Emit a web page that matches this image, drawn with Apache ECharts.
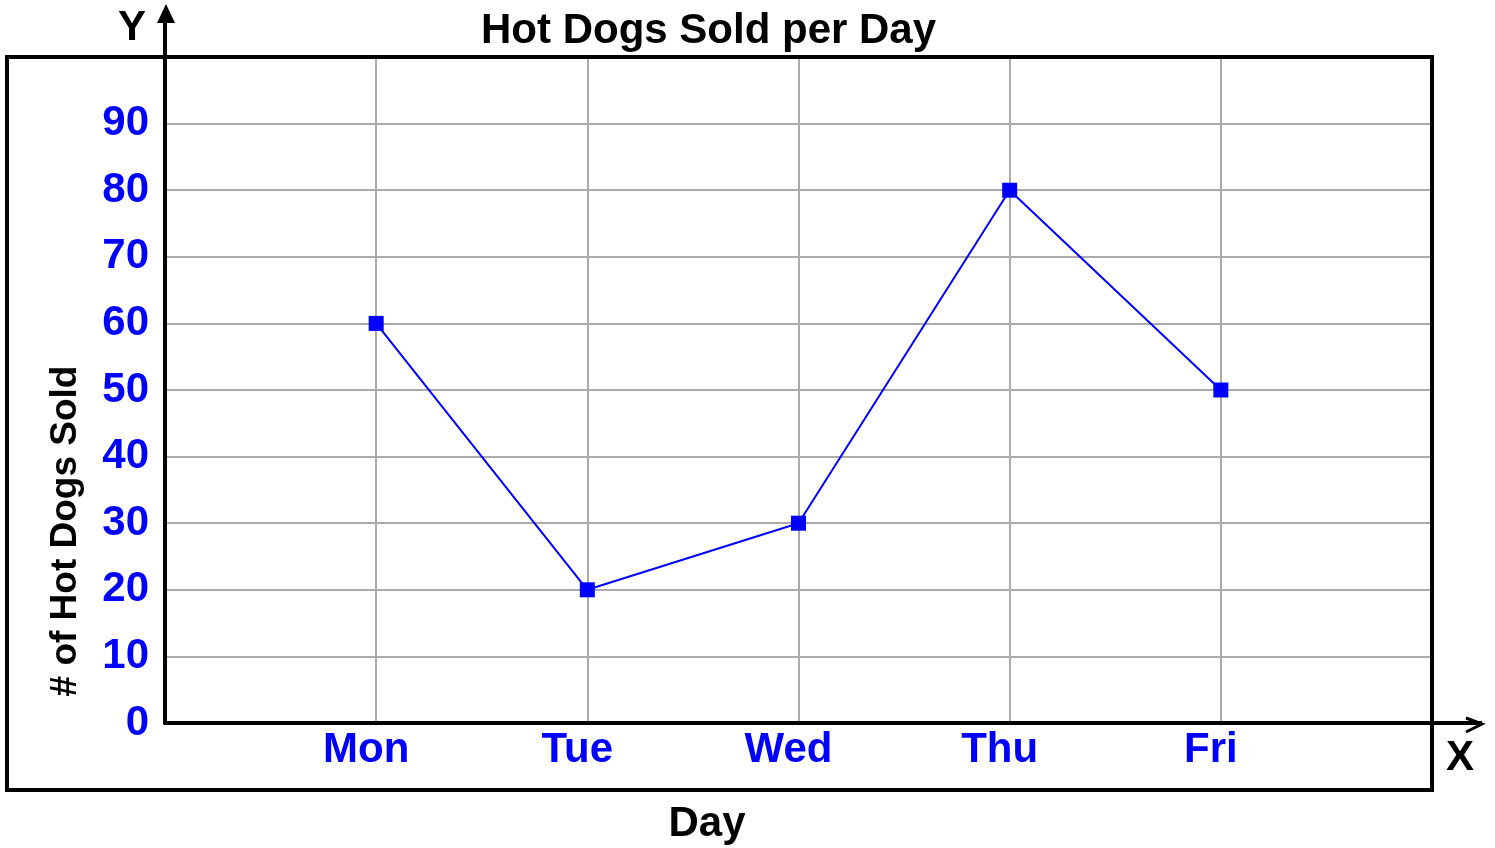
<!DOCTYPE html>
<html>
<head>
<meta charset="utf-8">
<script src="https://cdn.jsdelivr.net/npm/echarts@6/dist/echarts.min.js"></script>
<style>
  html, body { margin: 0; padding: 0; background: #fff; }
  #chart { width: 1495px; height: 848px; }
</style>
</head>
<body>
<div id="chart"></div>
<script>
var days = ['Mon', 'Tue', 'Wed', 'Thu', 'Fri'];
var sold = [60, 20, 30, 80, 50];
var yTicks = [0, 10, 20, 30, 40, 50, 60, 70, 80, 90];

var myChart = echarts.init(document.getElementById('chart'));
var font = 'Liberation Sans, Arial, sans-serif';

var points = days.map(function (d, i) { return [i + 1, sold[i]]; });

var option = {
    backgroundColor: '#fff',
    animation: false,
    title: {
        text: 'Hot Dogs Sold per Day',
        left: 476,
        top: 5,
        textStyle: { fontFamily: font, fontWeight: 'bold', fontSize: 42, color: '#000' }
    },
    grid: { left: 165, right: 63, top: 57, bottom: 125, outerBoundsMode: 'none', containLabel: false },
    xAxis: {
        type: 'value',
        min: 0,
        max: days.length + 1,
        interval: 1,
        axisLine: { show: true, lineStyle: { color: '#000', width: 4 } },
        axisTick: { show: false },
        splitLine: { show: true, lineStyle: { color: '#aaa', width: 2 } },
        axisLabel: {
            margin: 6,
            padding: [0, 20, 0, 0],
            fontFamily: font, fontWeight: 'bold', fontSize: 42, color: '#0000ff',
            formatter: function (v) { return days[v - 1] || ''; }
        }
    },
    yAxis: {
        type: 'value',
        min: 0,
        max: 100,
        interval: 10,
        axisLine: { show: true, lineStyle: { color: '#000', width: 4 } },
        axisTick: { show: false },
        splitLine: { show: true, lineStyle: { color: '#aaa', width: 2 } },
        axisLabel: {
            margin: 16,
            fontFamily: font, fontWeight: 'bold', fontSize: 42, color: '#0000ff',
            formatter: function (v) { return yTicks.indexOf(v) >= 0 ? String(v) : ''; }
        }
    },
    graphic: [
        // outer frame
        { type: 'rect', z: 50, shape: { x: 7, y: 57, width: 1425, height: 733 },
          style: { fill: 'none', stroke: '#000', lineWidth: 4 } },
        // y axis extension + arrow
        { type: 'line', z: 50, shape: { x1: 165, y1: 60, x2: 165, y2: 18 },
          style: { stroke: '#000', lineWidth: 4 } },
        { type: 'polygon', z: 50, shape: { points: [[166, 4], [175, 23], [157, 23]] },
          style: { fill: '#000' } },
        // x axis extension + arrow
        { type: 'line', z: 50, shape: { x1: 1430, y1: 723, x2: 1482, y2: 723 },
          style: { stroke: '#000', lineWidth: 4 } },
        { type: 'polyline', z: 50, shape: { points: [[1466, 718], [1482, 724], [1466, 732]] },
          style: { stroke: '#000', lineWidth: 3, fill: 'none' } },
        { type: 'text', z: 50, x: 132, y: 28,
          style: { text: 'Y', fontFamily: font, fontWeight: 'bold', fontSize: 42, fill: '#000',
                   align: 'center', verticalAlign: 'middle' } },
        { type: 'text', z: 50, x: 1460, y: 758,
          style: { text: 'X', fontFamily: font, fontWeight: 'bold', fontSize: 42, fill: '#000',
                   align: 'center', verticalAlign: 'middle' } },
        // axis names
        { type: 'text', z: 50, x: 707, y: 824,
          style: { text: 'Day', fontFamily: font, fontWeight: 'bold', fontSize: 42, fill: '#000',
                   align: 'center', verticalAlign: 'middle' } },
        { type: 'text', z: 50, x: 66, y: 531, rotation: Math.PI / 2,
          style: { text: '# of Hot Dogs Sold', fontFamily: font, fontWeight: 'bold', fontSize: 37, fill: '#000',
                   align: 'center', verticalAlign: 'middle' } }
    ],
    series: [
        {
            type: 'line',
            data: points,
            symbol: 'rect',
            symbolSize: 15,
            lineStyle: { color: '#0000ff', width: 2 },
            itemStyle: { color: '#0000ff' },
            z: 60
        }
    ]
};

myChart.setOption(option);
</script>
</body>
</html>
